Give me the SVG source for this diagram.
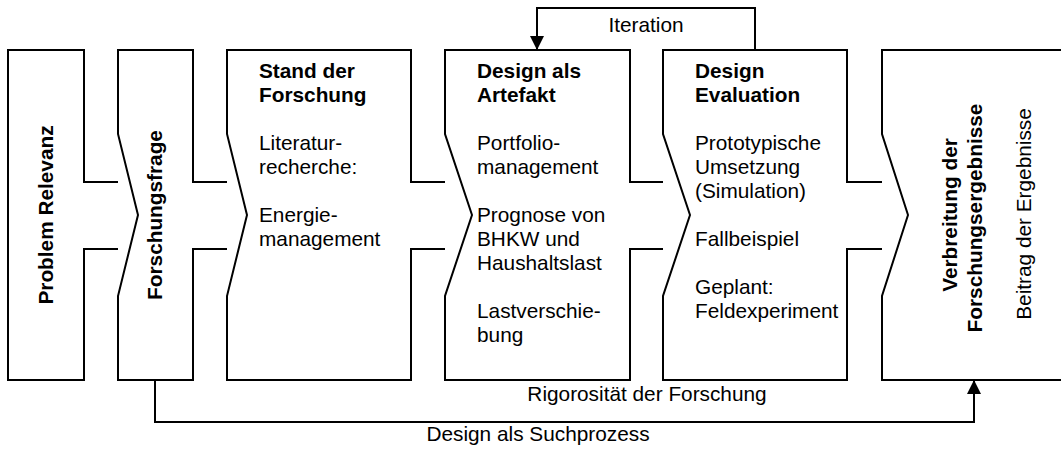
<svg xmlns="http://www.w3.org/2000/svg" width="1061" height="450" viewBox="0 0 1061 450">
  <style>
    .box { fill: none; stroke: #000; stroke-width: 2; stroke-linejoin: miter; }
    .link { fill: none; stroke: #000; stroke-width: 2; }
    text { font-family: "Liberation Sans", Arial, sans-serif; font-size: 20.8px; fill: #000; }
    .b { font-weight: bold; }
  </style>
  <defs>
    <marker id="arrow" viewBox="0 0 14 14" refX="13" refY="7" markerWidth="14" markerHeight="14" markerUnits="userSpaceOnUse" orient="auto">
      <path d="M0,0 L14,7 L0,14 Z" fill="#000"/>
    </marker>
  </defs>
  <rect width="1061" height="450" fill="#fff"/>

  <g id="problem-relevanz">
    <path class="box" d="M118,182 H84 V50 H8 V380 H84 V249 H118"/>
    <text class="b" transform="translate(53,215) rotate(-90)" text-anchor="middle">Problem Relevanz</text>
  </g>

  <g id="forschungsfrage">
    <path class="box" d="M227,182 H193 V50 H118 V134 L138,215 L118,296 V380 H193 V249 H227"/>
    <text class="b" transform="translate(162,215) rotate(-90)" text-anchor="middle">Forschungsfrage</text>
  </g>

  <g id="stand-der-forschung">
    <path class="box" d="M445,182 H411 V50 H227 V134 L247,215 L227,296 V380 H411 V249 H445"/>
    <text x="259" y="78" class="b">Stand der</text>
    <text x="259" y="102" class="b">Forschung</text>
    <text x="259" y="150">Literatur-</text>
    <text x="259" y="174">recherche:</text>
    <text x="259" y="222">Energie-</text>
    <text x="259" y="246">management</text>
  </g>

  <g id="design-als-artefakt">
    <path class="box" d="M663,182 H630 V50 H445 V134 L472,215 L445,296 V380 H630 V249 H663"/>
    <text x="477" y="78" class="b">Design als</text>
    <text x="477" y="102" class="b">Artefakt</text>
    <text x="477" y="150">Portfolio-</text>
    <text x="477" y="174">management</text>
    <text x="477" y="222">Prognose von</text>
    <text x="477" y="246">BHKW und</text>
    <text x="477" y="270">Haushaltslast</text>
    <text x="477" y="318">Lastverschie-</text>
    <text x="477" y="342">bung</text>
  </g>

  <g id="design-evaluation">
    <path class="box" d="M882,182 H847 V50 H663 V134 L690,215 L663,296 V380 H847 V249 H882"/>
    <text x="695" y="78" class="b">Design</text>
    <text x="695" y="102" class="b">Evaluation</text>
    <text x="695" y="150">Prototypische</text>
    <text x="695" y="174">Umsetzung</text>
    <text x="695" y="198">(Simulation)</text>
    <text x="695" y="246">Fallbeispiel</text>
    <text x="695" y="294">Geplant:</text>
    <text x="695" y="318">Feldexperiment</text>
  </g>

  <g id="verbreitung">
    <path class="box" d="M1063,50 H882 V134 L908,215 L882,296 V380 H1063"/>
    <text class="b" transform="translate(957,215) rotate(-90)" text-anchor="middle">Verbreitung der</text>
    <text class="b" transform="translate(982,218) rotate(-90)" text-anchor="middle">Forschungsergebnisse</text>
    <text transform="translate(1031,214) rotate(-90)" text-anchor="middle">Beitrag der Ergebnisse</text>
  </g>

  <g id="connectors">
    <path class="link" d="M755,50 V8 H537 V49" marker-end="url(#arrow)"/>
    <path class="link" d="M155,380 V422 H974 V381" marker-end="url(#arrow)"/>
    <text x="646" y="32" text-anchor="middle">Iteration</text>
    <text x="647" y="401" text-anchor="middle">Rigorosität der Forschung</text>
    <text x="538" y="441" text-anchor="middle">Design als Suchprozess</text>
  </g>
</svg>
